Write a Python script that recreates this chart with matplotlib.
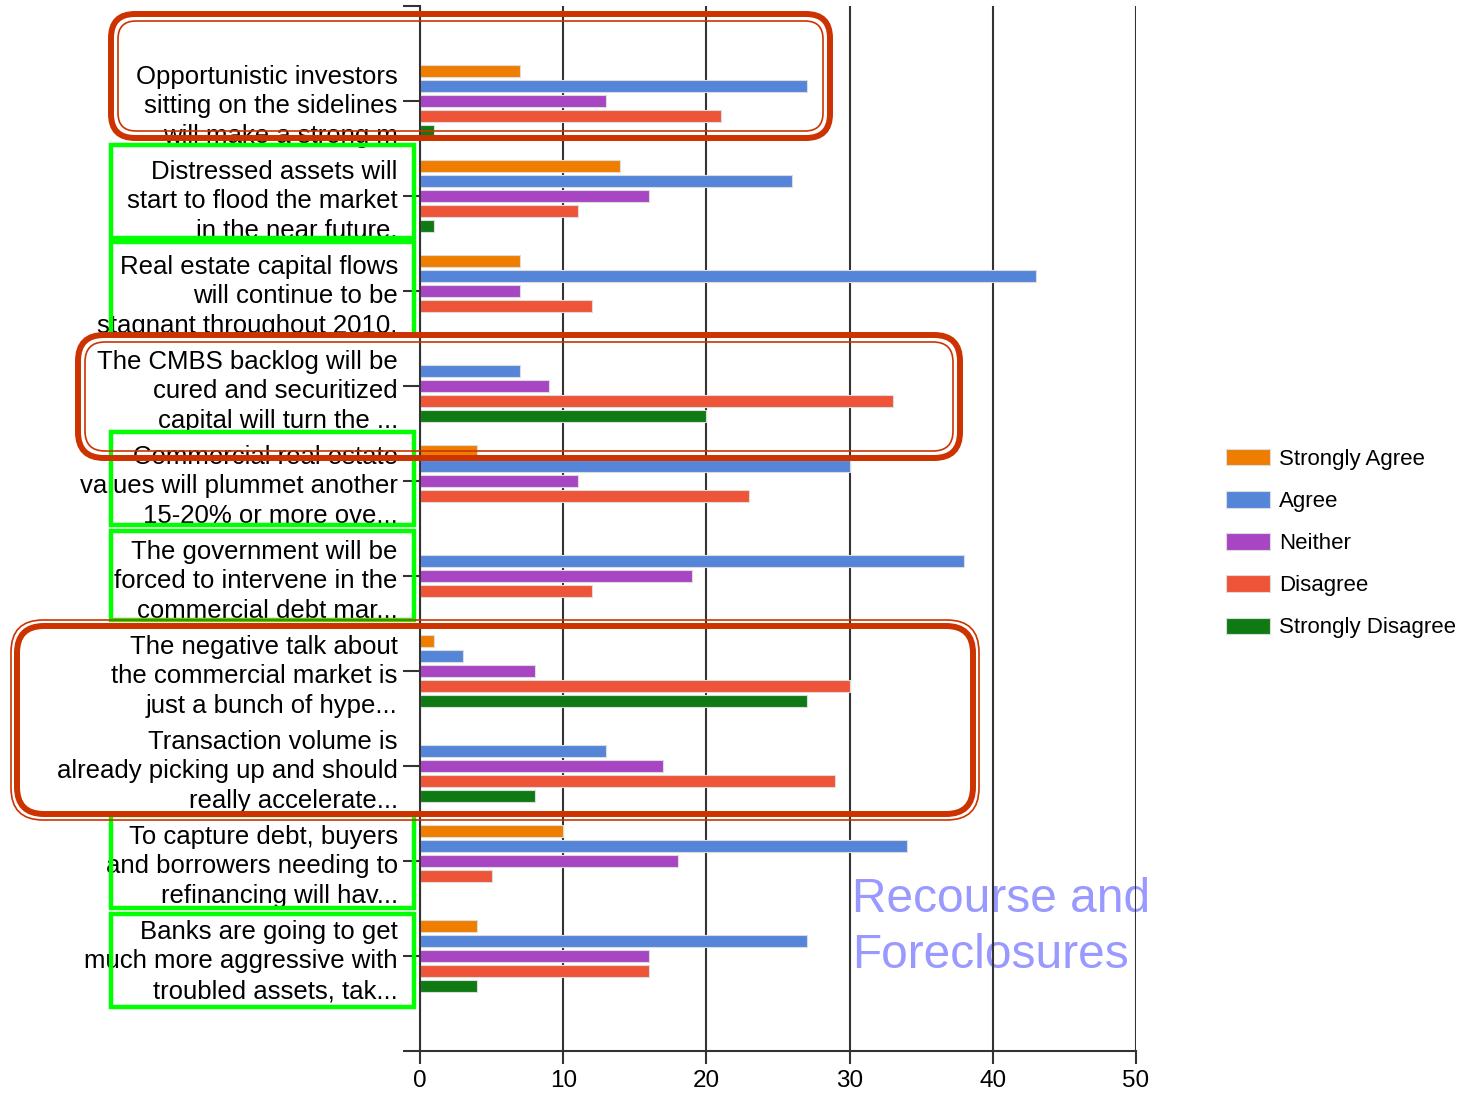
import matplotlib.pyplot as plt
import numpy as np
from matplotlib.patches import FancyBboxPatch
from matplotlib.transforms import IdentityTransform

plt.rcParams["font.family"] = ["Liberation Sans", "DejaVu Sans"]

# %%
# Survey answers, one value per statement (top to bottom)
statements = [
    "Opportunistic investors\nsitting on the sidelines\nwill make a strong m",
    "Distressed assets will\nstart to flood the market\nin the near future.",
    "Real estate capital flows\nwill continue to be\nstagnant throughout 2010.",
    "The CMBS backlog will be\ncured and securitized\ncapital will turn the ...",
    "Commercial real estate\nvalues will plummet another\n15-20% or more ove...",
    "The government will be\nforced to intervene in the\ncommercial debt mar...",
    "The negative talk about\nthe commercial market is\njust a bunch of hype...",
    "Transaction volume is\nalready picking up and should\nreally accelerate...",
    "To capture debt, buyers\nand borrowers needing to\nrefinancing will hav...",
    "Banks are going to get\nmuch more aggressive with\ntroubled assets, tak...",
]
strongly_agree = [7, 14, 7, 0, 4, 0, 1, 0, 10, 4]
agree = [27, 26, 43, 7, 30, 38, 3, 13, 34, 27]
neither = [13, 16, 7, 9, 11, 19, 8, 17, 18, 16]
disagree = [21, 11, 12, 33, 23, 12, 30, 29, 5, 16]
strongly_disagree = [1, 1, 0, 20, 0, 0, 27, 8, 0, 4]

series_names = ["Strongly Agree", "Agree", "Neither", "Disagree", "Strongly Disagree"]
colors = ["#EE7D00", "#5585D8", "#A845C2", "#EE5538", "#0F7A14"]
xticks = [0, 10, 20, 30, 40, 50]

W, H = 1478, 1094
fig = plt.figure(figsize=(W / 100, H / 100), dpi=100)
ax = fig.add_axes([420 / W, 1 - 1051 / H, (1136 - 420) / W, (1051 - 6) / H])

pos = np.arange(1, len(statements) + 1)
step = 0.158
series = [strongly_agree, agree, neither, disagree, strongly_disagree]
for i, (vals, name, c) in enumerate(zip(series, series_names, colors)):
    ax.barh(pos + (i - 2) * step, vals, height=0.13, color=c, label=name,
            edgecolor="#DCDCDC", linewidth=0.8, zorder=2)

ax.set_xlim(0, 50)
ax.set_ylim(11, 0)
ax.set_xticks(xticks)
ax.set_yticks(pos)
ax.set_yticklabels(statements, fontsize=18.5, linespacing=1.3)
ax.set_yticks([0, 11], minor=True)
ax.tick_params(axis="y", which="both", length=12, width=1.5, pad=4, color="#333333")
ax.tick_params(axis="x", length=9, width=1.5, pad=5, labelsize=17.5, color="#333333")

ax.set_axisbelow(True)
ax.grid(axis="x", color="#333333", linewidth=1.5)
for s in ["top", "right"]:
    ax.spines[s].set_visible(False)
for s in ["left", "bottom"]:
    ax.spines[s].set_color("#333333")
    ax.spines[s].set_linewidth(1.5)

ax.text(30.2, 9.17, "Recourse and\nForeclosures", fontsize=34.5, color="#9999FF",
        va="top", ha="left", linespacing=1.32, zorder=0.3, clip_on=False)

fig.legend(loc="upper left", bbox_to_anchor=(1226 / W, 1 - 449 / H), frameon=False,
           fontsize=16, handlelength=2.0, handleheight=0.75, handletextpad=0.4,
           labelspacing=0.95, borderpad=0, borderaxespad=0)

# %%
# Highlight boxes drawn on top of the chart, in pixel positions
def px_box(x0, y0, x1, y1, color, lw, r):
    style = f"round,pad=0,rounding_size={r}" if r else "square,pad=0"
    p = FancyBboxPatch((x0, H - y1), x1 - x0, y1 - y0, boxstyle=style,
                       transform=IdentityTransform(), fill=False,
                       edgecolor=color, linewidth=lw, zorder=10)
    fig.patches.append(p)

green = "#00FF00"
for y0, y1 in [(145, 238), (242, 335), (432, 525), (531, 620), (815, 908), (914, 1007)]:
    px_box(111, y0, 414, y1, green, 3.2, 0)

red = "#CC3300"
# thick outer line, thin inner line
px_box(111, 14, 830, 138, red, 4.3, 24)
px_box(118, 21, 823, 131, red, 1.2, 18)
px_box(78, 335, 960, 458, red, 4.3, 26)
px_box(85, 342, 953, 451, red, 1.2, 20)
# thin outer line, thick inner line
px_box(11, 620, 979, 820, red, 1.2, 32)
px_box(17, 626, 973, 814, red, 4.3, 27)

fig.savefig("out.png", dpi=100)
